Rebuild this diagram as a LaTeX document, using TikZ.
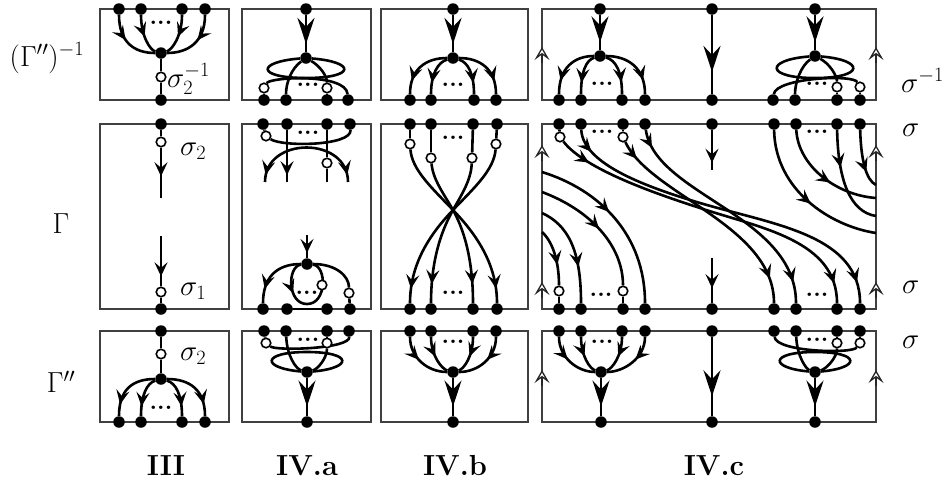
\RequirePackage{fix-cm}
\documentclass[tikz,border=0pt]{standalone}
\usetikzlibrary{arrows.meta,decorations.markings,backgrounds}
\tikzset{
  sarr/.tip={Stealth[length=14pt,width=13pt,inset=5.5pt]},
  barr/.tip={Stealth[length=26pt,width=17pt,inset=9pt]},
  harr/.tip={Stealth[length=13pt,width=15pt,inset=5.5pt,fill=white]},
  dot/.style={circle,fill=black,inner sep=0pt,minimum size=11.5pt},
  odot/.style={circle,draw=black,fill=white,line width=1.6pt,inner sep=0pt,minimum size=9.5pt},
  strand/.style={line width=2.6pt},
  frame/.style={draw=black!75,line width=1.3pt},
  harrow/.style={draw=black!85,line width=1.3pt},
  ma/.style={postaction={decorate,decoration={markings,mark=at position #1 with {\arrow{sarr}}}}},
  mr/.style={postaction={decorate,decoration={markings,mark=at position #1 with {\arrowreversed{sarr}}}}},
  mb/.style={postaction={decorate,decoration={markings,mark=at position #1 with {\arrow{barr}}}}},
  lab/.style={font=\fontsize{29}{34}\selectfont,inner sep=0pt},
  dts/.style={font=\fontsize{24}{24}\selectfont\bfseries,inner sep=0pt},
}
\begin{document}
\begin{tikzpicture}[x=1pt,y=-1pt]
\useasboundingbox (0,0) rectangle (949,483);

% ---------------- labels
\node[lab] (LGinv) at (47,58) {$(\Gamma'')^{-1}$};
\node[lab] (LG) at (61,224) {$\Gamma$};
\node[lab] (LGpp) at (61,382) {$\Gamma''$};
\node[lab] (TIII) at (166,466) {\textbf{III}};
\node[lab] (TIVa) at (307,466) {\textbf{IV.a}};
\node[lab] (TIVb) at (455,466) {\textbf{IV.b}};
\node[lab] (TIVc) at (714,466) {\textbf{IV.c}};
\node[lab,anchor=base west] (Rs1) at (901,92) {$\sigma^{-1}$};
\node[lab,anchor=base west] (Rs2) at (902,136) {$\sigma$};
\node[lab,anchor=base west] (Rs3) at (902,293) {$\sigma$};
\node[lab,anchor=base west] (Rs4) at (902,348) {$\sigma$};

% ---------------- III top
\node[dot] (Uat1) at (119,9) {};
\node[dot] (Uat2) at (141,9) {};
\node[dot] (Uat3) at (182,9) {};
\node[dot] (Uat4) at (205,9) {};
\node[dot] (Uac) at (161,53) {};
\node[odot] (Uao) at (161,77) {};
\node[dot] (Uab) at (161,100) {};
\node[dts] (Uadots) at (161,23) {...};
\node[lab,anchor=west] (Uasig) at (167,79) {$\sigma_2^{-1}$};
% III middle
\node[dot] (Mat) at (161,124) {};
\node[odot] (Mao1) at (161,142) {};
\coordinate (Mae1) at (161,198);
\coordinate (Mae2) at (161,236);
\node[odot] (Mao2) at (161,292) {};
\node[dot] (Mab) at (161,309) {};
\node[lab,anchor=west] (Masig1) at (180,151) {$\sigma_2$};
\node[lab,anchor=west] (Masig2) at (180,291) {$\sigma_1$};
% III bottom
\node[dot] (Lat) at (161,331) {};
\node[odot] (Lao) at (161,354) {};
\node[dot] (Lac) at (161,379) {};
\node[dot] (Lab1) at (119,422) {};
\node[dot] (Lab2) at (141,422) {};
\node[dot] (Lab3) at (182,422) {};
\node[dot] (Lab4) at (205,422) {};
\node[dts] (Ladots) at (161,408) {...};
\node[lab,anchor=west] (Lasig) at (180,356) {$\sigma_2$};

% ---------------- IV.a top
\node[dot] (Ubt) at (306,9) {};
\node[dot] (Ubc) at (306,58) {};
\coordinate (Ubl) at (306,78);
\node[dot] (Ubb1) at (264,100) {};
\node[dot] (Ubb2) at (286,100) {};
\node[dot] (Ubb3) at (327,100) {};
\node[dot] (Ubb4) at (348,100) {};
\node[odot] (Ubo1) at (264,88) {};
\node[odot] (Ubo3) at (327,88) {};
\node[dts] (Ubdots) at (308,85) {...};
% IV.a middle
\node[dot] (Mbt1) at (263,124) {};
\node[dot] (Mbt2) at (287,124) {};
\node[dot] (Mbt3) at (327,124) {};
\node[dot] (Mbt4) at (350,124) {};
\node[odot] (Mbo1) at (266,136) {};
\node[odot] (Mbo3) at (327,163) {};
\coordinate (Mbe2) at (287,182);
\coordinate (Mbe3) at (327,182);
\coordinate (Mbal) at (265,182);
\coordinate (Mbar) at (348,182);
\node[dts] (Mbdots1) at (308,133) {...};
\coordinate (Mbe4) at (307,235);
\node[dot] (Mbc) at (307,264) {};
\node[dot] (Mbb1) at (263,309) {};
\node[dot] (Mbb2) at (287,309) {};
\node[dot] (Mbb3) at (327,309) {};
\node[dot] (Mbb4) at (350,309) {};
\node[odot] (Mbo4) at (349,293) {};
\coordinate (Mbl) at (307,304);
\node[odot] (Mbo5) at (322,285) {};
\node[dts] (Mbdots2) at (307,293) {...};
% IV.a bottom
\node[dot] (Lbt1) at (264,331) {};
\node[dot] (Lbt2) at (286,331) {};
\node[dot] (Lbt3) at (327,331) {};
\node[dot] (Lbt4) at (349,331) {};
\node[odot] (Lbo1) at (266,343) {};
\node[odot] (Lbo3) at (327,343) {};
\node[dot] (Lbc) at (307,372) {};
\coordinate (Lbl) at (307,352);
\node[dot] (Lbb) at (307,422) {};
\node[dts] (Lbdots) at (308,340) {...};

% ---------------- IV.b top
\node[dot] (Uct) at (453,9) {};
\node[dot] (Ucc) at (453,58) {};
\node[dot] (Ucb1) at (410,100) {};
\node[dot] (Ucb2) at (431,100) {};
\node[dot] (Ucb3) at (474,100) {};
\node[dot] (Ucb4) at (496,100) {};
\node[dts] (Ucdots) at (453,85) {...};
% IV.b middle
\node[dot] (Mct1) at (410,124) {};
\node[dot] (Mct2) at (431,124) {};
\node[dot] (Mct3) at (473,124) {};
\node[dot] (Mct4) at (497,124) {};
\node[odot] (Mco1) at (410,144) {};
\node[odot] (Mco2) at (431,158) {};
\node[odot] (Mco3) at (472,158) {};
\node[odot] (Mco4) at (496,144) {};
\coordinate (McX) at (453,210);
\node[dot] (Mcb1) at (410,309) {};
\node[dot] (Mcb2) at (431,309) {};
\node[dot] (Mcb3) at (473,309) {};
\node[dot] (Mcb4) at (497,309) {};
\node[dts] (Mcdots1) at (453,138) {...};
\node[dts] (Mcdots2) at (453,293) {...};
% IV.b bottom
\node[dot] (Lct1) at (410,331) {};
\node[dot] (Lct2) at (431,331) {};
\node[dot] (Lct3) at (473,331) {};
\node[dot] (Lct4) at (496,331) {};
\node[dot] (Lcc) at (453,372) {};
\node[dot] (Lcb) at (453,422) {};
\node[dts] (Lcdots) at (453,342) {...};

% ---------------- IV.c top
\node[dot] (Udt1) at (600,9) {};
\node[dot] (Udc1) at (600,56) {};
\node[dot] (Udb1) at (559,100) {};
\node[dot] (Udb2) at (581,100) {};
\node[dot] (Udb3) at (622,100) {};
\node[dot] (Udb4) at (645,100) {};
\node[dts] (Uddots1) at (602,84) {...};
\node[dot] (Udt2) at (712,9) {};
\node[dot] (Udb5) at (712,100) {};
\node[dot] (Udt3) at (815,9) {};
\node[dot] (Udc2) at (815,56) {};
\coordinate (Udl) at (815,78);
\node[dot] (Udb6) at (773,100) {};
\node[dot] (Udb7) at (795,100) {};
\node[dot] (Udb8) at (837,100) {};
\node[dot] (Udb9) at (860,100) {};
\node[odot] (Udo8) at (837,87) {};
\node[odot] (Udo9) at (860,87) {};
\node[dts] (Uddots2) at (817,84) {...};
% IV.c middle
\node[dot] (Mdt1) at (559,124) {};
\node[dot] (Mdt2) at (581,124) {};
\node[dot] (Mdt3) at (623,124) {};
\node[dot] (Mdt4) at (645,124) {};
\node[dot] (Mdt5) at (712,124) {};
\node[dot] (Mdt6) at (774,124) {};
\node[dot] (Mdt7) at (796,124) {};
\node[dot] (Mdt8) at (837,124) {};
\node[dot] (Mdt9) at (860,124) {};
\node[dot] (Mdb1) at (559,309) {};
\node[dot] (Mdb2) at (581,309) {};
\node[dot] (Mdb3) at (623,309) {};
\node[dot] (Mdb4) at (645,309) {};
\node[dot] (Mdb5) at (712,309) {};
\node[dot] (Mdb6) at (774,309) {};
\node[dot] (Mdb7) at (796,309) {};
\node[dot] (Mdb8) at (837,309) {};
\node[dot] (Mdb9) at (860,309) {};
\node[odot] (Mdo1) at (560,137) {};
\node[odot] (Mdo3) at (623,137) {};
\node[odot] (Mdob1) at (559,291) {};
\node[odot] (Mdob3) at (623,291) {};
\coordinate (MdL1) at (542,232);
\coordinate (MdL2) at (542,213);
\coordinate (MdL3) at (542,192);
\coordinate (MdL4) at (542,172);
\coordinate (MdR1) at (876,233);
\coordinate (MdR2) at (876,198);
\coordinate (MdR3) at (876,216);
\coordinate (MdR4) at (876,185);
\coordinate (MdA) at (700,208);
\coordinate (MdC) at (700,203);
\coordinate (Mde1) at (712,170);
\coordinate (Mde2) at (712,258);
\node[dts] (Mddots1) at (602,132) {...};
\node[dts] (Mddots2) at (817,132) {...};
\node[dts] (Mddots3) at (601,295) {...};
\node[dts] (Mddots4) at (817,295) {...};
% IV.c bottom
\node[dot] (Ldt1) at (559,331) {};
\node[dot] (Ldt2) at (581,331) {};
\node[dot] (Ldt3) at (622,331) {};
\node[dot] (Ldt4) at (645,331) {};
\node[dot] (Ldc1) at (601,372) {};
\node[dot] (Ldb1) at (601,422) {};
\node[dts] (Lddots1) at (602,342) {...};
\node[dot] (Ldt5) at (712,331) {};
\node[dot] (Ldb2) at (712,422) {};
\node[dot] (Ldt6) at (774,331) {};
\node[dot] (Ldt7) at (796,331) {};
\node[dot] (Ldt8) at (837,331) {};
\node[dot] (Ldt9) at (860,331) {};
\node[odot] (Ldo8) at (837,343) {};
\node[odot] (Ldo9) at (860,343) {};
\node[dot] (Ldc2) at (815,372) {};
\coordinate (Ldl) at (815,352);
\node[dot] (Ldb3) at (815,422) {};
\node[dts] (Lddots2) at (817,340) {...};

\begin{scope}[on background layer]
% frames
\foreach \xa/\xb in {100/229,242/371,381/528,542/876}{
  \draw[frame] (\xa,9) rectangle (\xb,100);
  \draw[frame] (\xa,124) rectangle (\xb,309);
  \draw[frame] (\xa,331) rectangle (\xb,422);
}
\foreach \xx in {542,876}{
  \draw[harrow,-{harr}] (\xx,63) -- (\xx,47);
  \draw[harrow,-{harr}] (\xx,161) -- (\xx,145);
  \draw[harrow,-{harr}] (\xx,298) -- (\xx,282);
  \draw[harrow,-{harr}] (\xx,386) -- (\xx,370);
}

% III
\draw[strand,ma=0.44] (Uat1) .. controls (119,42) and (134,53) .. (Uac);
\draw[strand,ma=0.54] (Uat2) .. controls (141,36) and (150,50) .. (Uac);
\draw[strand,ma=0.54] (Uat3) .. controls (182,36) and (172,50) .. (Uac);
\draw[strand,ma=0.44] (Uat4) .. controls (205,42) and (188,53) .. (Uac);
\draw[strand] (Uac) -- (Uao);
\draw[strand] (Uao) -- (Uab);
\draw[strand] (Mat) -- (Mao1);
\draw[strand,ma=0.57] (Mao1) -- (Mae1);
\draw[strand,ma=0.8] (Mae2) -- (Mao2);
\draw[strand] (Mao2) -- (Mab);
\draw[strand] (Lat) -- (Lao);
\draw[strand] (Lao) -- (Lac);
\draw[strand,ma=0.8] (Lac) .. controls (132,379) and (119,390) .. (Lab1);
\draw[strand,ma=0.76] (Lac) .. controls (147,383) and (141,395) .. (Lab2);
\draw[strand,ma=0.76] (Lac) .. controls (176,383) and (182,395) .. (Lab3);
\draw[strand,ma=0.8] (Lac) .. controls (190,379) and (205,390) .. (Lab4);

% IV.a
\draw[strand,mb=0.78] (Ubt) -- (Ubc);
\draw[strand] (Ubc) .. controls (256,62) and (256,78) .. (Ubl) .. controls (356,78) and (356,62) .. (Ubc);
\draw[strand] (Ubc) .. controls (292,68) and (286,82) .. (Ubb2);
\draw[strand] (Ubc) .. controls (320,66) and (327,76) .. (Ubo3);
\draw[strand] (Ubo3) -- (Ubb3);
\draw[strand] (Ubo1) -- (Ubb1);
\draw[strand] (Ubo1) .. controls (270,77) and (346,73) .. (Ubb4);

\draw[strand] (Mbt1) -- (Mbo1);
\draw[strand] (Mbo1) .. controls (282,147) and (352,146) .. (Mbt4);
\draw[strand,ma=0.87] (Mbt2) -- (Mbe2);
\draw[strand] (Mbt3) -- (Mbo3);
\draw[strand] (Mbo3) -- (Mbe3);
\draw[strand,mr=0.06,ma=0.94] (Mbal) .. controls (265,136) and (348,136) .. (Mbar);
\draw[strand,ma=0.78] (Mbe4) -- (Mbc);
\draw[strand,ma=0.77] (Mbc) .. controls (276,264) and (263,278) .. (Mbb1);
\draw[strand] (Mbc) .. controls (336,264) and (349,276) .. (Mbo4);
\draw[strand] (Mbo4) -- (Mbb4);
\draw[strand,ma=0.32] (Mbc) .. controls (287,266) and (287,304) .. (Mbl) .. controls (327,304) and (327,266) .. (Mbc);
\draw[strand] (Mbb2) -- (Mbb3);

\draw[strand] (Lbt1) -- (Lbo1);
\draw[strand] (Lbt3) -- (Lbo3);
\draw[strand] (Lbo1) .. controls (276,351) and (350,349) .. (Lbt4);
\draw[strand] (Lbt2) .. controls (287,356) and (296,369) .. (Lbc);
\draw[strand] (Lbo3) .. controls (327,358) and (318,369) .. (Lbc);
\draw[strand] (Lbc) .. controls (261,368) and (261,352) .. (Lbl) .. controls (353,352) and (353,368) .. (Lbc);
\draw[strand,mb=0.75] (Lbc) -- (Lbb);

% IV.b
\draw[strand,mb=0.78] (Uct) -- (Ucc);
\draw[strand,ma=0.77] (Ucc) .. controls (425,58) and (410,70) .. (Ucb1);
\draw[strand,ma=0.72] (Ucc) .. controls (438,62) and (431,74) .. (Ucb2);
\draw[strand,ma=0.72] (Ucc) .. controls (468,62) and (474,74) .. (Ucb3);
\draw[strand,ma=0.77] (Ucc) .. controls (481,58) and (496,70) .. (Ucb4);

\draw[strand] (Mct1) -- (Mco1);
\draw[strand] (Mct2) -- (Mco2);
\draw[strand] (Mct3) -- (Mco3);
\draw[strand] (Mct4) -- (Mco4);
\draw[strand,ma=0.92] (Mco1) .. controls (412,170) and (432,188) .. (McX) .. controls (474,232) and (497,262) .. (Mcb4);
\draw[strand,ma=0.87] (Mco2) .. controls (433,180) and (444,194) .. (McX) .. controls (462,226) and (473,255) .. (Mcb3);
\draw[strand,ma=0.87] (Mco3) .. controls (471,180) and (462,194) .. (McX) .. controls (444,226) and (431,255) .. (Mcb2);
\draw[strand,ma=0.92] (Mco4) .. controls (494,170) and (474,188) .. (McX) .. controls (432,232) and (410,262) .. (Mcb1);

\draw[strand,ma=0.44] (Lct1) .. controls (410,358) and (428,372) .. (Lcc);
\draw[strand,ma=0.52] (Lct2) .. controls (431,356) and (442,369) .. (Lcc);
\draw[strand,ma=0.52] (Lct3) .. controls (473,356) and (464,369) .. (Lcc);
\draw[strand,ma=0.44] (Lct4) .. controls (496,358) and (478,372) .. (Lcc);
\draw[strand,mb=0.75] (Lcc) -- (Lcb);

% IV.c top
\draw[strand,mb=0.78] (Udt1) -- (Udc1);
\draw[strand,ma=0.77] (Udc1) .. controls (574,56) and (559,68) .. (Udb1);
\draw[strand,ma=0.72] (Udc1) .. controls (586,60) and (581,72) .. (Udb2);
\draw[strand,ma=0.72] (Udc1) .. controls (616,60) and (622,72) .. (Udb3);
\draw[strand,ma=0.77] (Udc1) .. controls (628,56) and (645,68) .. (Udb4);
\draw[strand,mb=0.72] (Udt2) -- (Udb5);
\draw[strand,mb=0.78] (Udt3) -- (Udc2);
\draw[strand] (Udc2) .. controls (765,60) and (765,78) .. (Udl) .. controls (865,78) and (865,60) .. (Udc2);
\draw[strand] (Udc2) .. controls (801,66) and (795,82) .. (Udb7);
\draw[strand] (Udc2) .. controls (830,64) and (837,76) .. (Udo8);
\draw[strand] (Udo8) -- (Udb8);
\draw[strand] (Udb6) .. controls (776,78) and (853,74) .. (Udo9);
\draw[strand] (Udo9) -- (Udb9);

% IV.c middle
\draw[strand] (Mdt1) -- (Mdo1);
\draw[strand] (Mdt3) -- (Mdo3);
\draw[strand,ma=0.1,ma=0.94] (Mdo1) .. controls (585,170) and (660,195) .. (MdA) .. controls (760,228) and (837,240) .. (Mdb8);
\draw[strand,ma=0.07,ma=0.94] (Mdt2) .. controls (583,165) and (650,188) .. (MdC) .. controls (775,225) and (860,235) .. (Mdb9);
\draw[strand,ma=0.09,ma=0.89] (Mdo3) .. controls (650,195) and (774,225) .. (Mdb6);
\draw[strand,ma=0.08,ma=0.91] (Mdt4) .. controls (655,195) and (796,215) .. (Mdb7);
\draw[strand,ma=0.54] (Mdt6) .. controls (775,190) and (830,226) .. (MdR1);
\draw[strand,ma=0.57] (Mdt7) .. controls (798,165) and (835,195) .. (MdR2);
\draw[strand,ma=0.37] (Mdt8) .. controls (838,180) and (850,212) .. (MdR3);
\draw[strand,ma=0.72] (Mdt9) .. controls (861,160) and (866,180) .. (MdR4);
\draw[strand,ma=0.64] (MdL1) .. controls (553,242) and (559,262) .. (Mdob1);
\draw[strand] (Mdob1) -- (Mdb1);
\draw[strand,ma=0.65] (MdL2) .. controls (568,225) and (581,250) .. (Mdb2);
\draw[strand,ma=0.52] (MdL3) .. controls (590,210) and (623,245) .. (Mdob3);
\draw[strand] (Mdob3) -- (Mdb3);
\draw[strand,ma=0.44] (MdL4) .. controls (600,190) and (645,235) .. (Mdb4);
\draw[strand,ma=0.82] (Mdt5) -- (Mde1);
\draw[strand,ma=0.67] (Mde2) -- (Mdb5);

% IV.c bottom
\draw[strand,ma=0.44] (Ldt1) .. controls (559,358) and (578,372) .. (Ldc1);
\draw[strand,ma=0.52] (Ldt2) .. controls (581,356) and (590,369) .. (Ldc1);
\draw[strand,ma=0.52] (Ldt3) .. controls (622,356) and (612,369) .. (Ldc1);
\draw[strand,ma=0.44] (Ldt4) .. controls (645,358) and (624,372) .. (Ldc1);
\draw[strand,mb=0.75] (Ldc1) -- (Ldb1);
\draw[strand,mb=0.75] (Ldt5) -- (Ldb2);
\draw[strand] (Ldt8) -- (Ldo8);
\draw[strand] (Ldt9) -- (Ldo9);
\draw[strand] (Ldt6) .. controls (776,352) and (852,354) .. (Ldo9);
\draw[strand] (Ldt7) .. controls (797,356) and (806,369) .. (Ldc2);
\draw[strand] (Ldo8) .. controls (837,358) and (826,369) .. (Ldc2);
\draw[strand] (Ldc2) .. controls (769,368) and (769,352) .. (Ldl) .. controls (861,352) and (861,368) .. (Ldc2);
\draw[strand,mb=0.75] (Ldc2) -- (Ldb3);
\end{scope}
\end{tikzpicture}
\end{document}
